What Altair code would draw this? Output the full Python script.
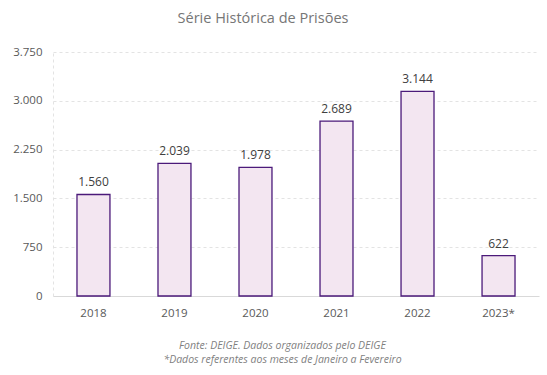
import altair as alt
import pandas as pd

anos = ["2018", "2019", "2020", "2021", "2022", "2023*"]
prisoes = [1560, 2039, 1978, 2689, 3144, 622]
y_ticks = [0, 750, 1500, 2250, 3000, 3750]

df = pd.DataFrame({"ano": anos, "prisoes": prisoes})

FONT = "Open Sans"

base = alt.Chart(df).encode(
    x=alt.X(
        "ano:N",
        sort=anos,
        scale=alt.Scale(paddingInner=0.593, paddingOuter=0.296),
        axis=alt.Axis(
            title=["Fonte: DEIGE. Dados organizados pelo DEIGE",
                   "*Dados referentes aos meses de Janeiro a Fevereiro"],
            titleFontStyle="italic",
            titleFontWeight="normal",
            titleFont=FONT,
            titleFontSize=10.5,
            titleColor="#7f7f7f",
            titlePadding=22,
            titleLineHeight=14,
            titleX=229,
            labelAngle=0,
            labelFont=FONT,
            labelFontSize=11.5,
            labelColor="#595959",
            labelPadding=11,
            ticks=False,
            domainColor="#d9d9d9",
            domainWidth=1,
        ),
    ),
    y=alt.Y(
        "prisoes:Q",
        scale=alt.Scale(domain=[0, 3750], nice=False),
        axis=alt.Axis(
            title=None,
            values=y_ticks,
            labelExpr="replace(format(datum.value, ','), ',', '.')",
            labelFont=FONT,
            labelFontSize=11.5,
            labelColor="#595959",
            labelPadding=11,
            ticks=False,
            domain=True,
            domainColor="#e3e3e3",
            domainDash=[3, 3],
            domainWidth=1,
            gridColor="#e3e3e3",
            gridDash=[3, 3],
            gridWidth=1,
        ),
    ),
)

bars = base.mark_bar(fill="#f3e6f1", stroke="#4b1a7a", strokeWidth=1.3)

labels = base.mark_text(
    dy=-5, font=FONT, fontSize=12, color="#404040", baseline="bottom"
).transform_calculate(
    rotulo="replace(format(datum.prisoes, ','), ',', '.')"
).encode(text="rotulo:N")

chart = (
    (bars + labels)
    .properties(
        width=486,
        height=244,
        padding={"left": 53, "top": 52, "right": 8, "bottom": 79},
        autosize=alt.AutoSizeParams(type="none"),
        title=alt.TitleParams(
            "Série Histórica de Prisões",
            font=FONT,
            fontSize=14.5,
            fontWeight="normal",
            color="#767676",
            anchor="middle",
            offset=20,
            dx=-33,
        ),
    )
    .configure_view(stroke=None)
)

chart.save("out.html", embed_options={"renderer": "svg", "actions": False})
